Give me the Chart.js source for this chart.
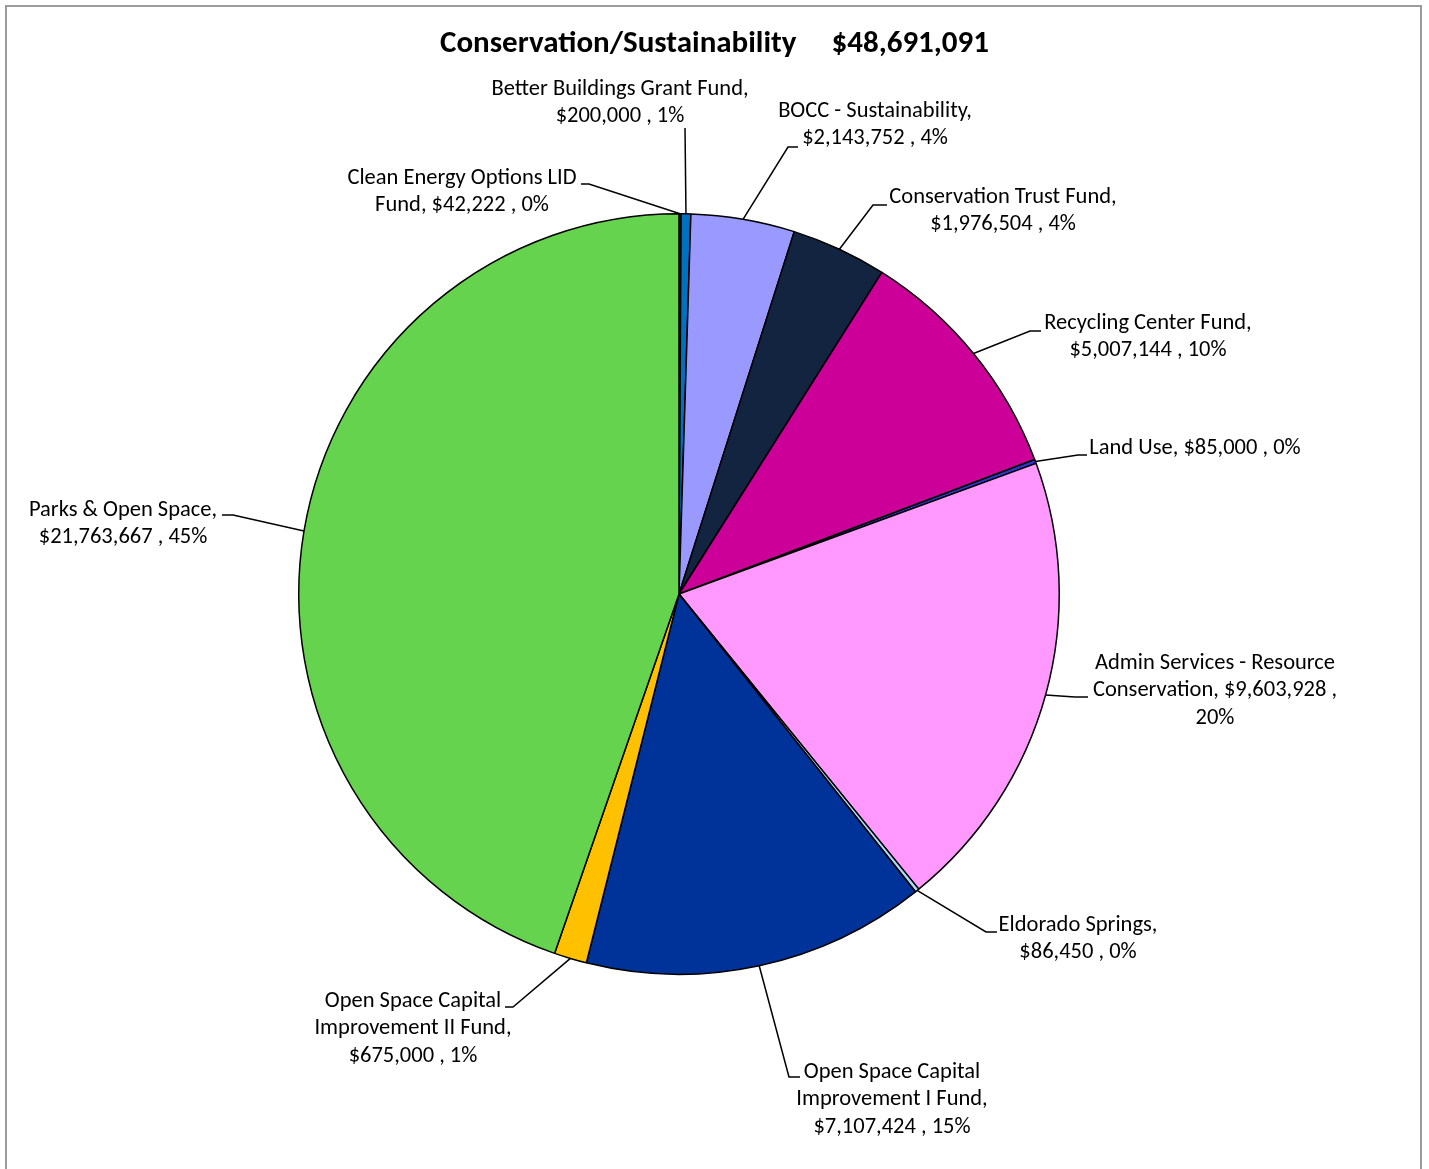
<!DOCTYPE html>
<html>
<head>
<meta charset="utf-8">
<title>Conservation/Sustainability</title>
<script src="https://cdn.jsdelivr.net/npm/chart.js@4/dist/chart.umd.min.js"></script>
<style>
  html, body { margin: 0; padding: 0; background: #fff; }
  canvas { display: block; }
</style>
</head>
<body>
<canvas id="fundChart" width="1429" height="1169"></canvas>
<script>
'use strict';

const chartTitle = 'Conservation/Sustainability';
const fundNames = [
  'Clean Energy Options LID Fund',
  'Better Buildings Grant Fund',
  'BOCC - Sustainability',
  'Conservation Trust Fund',
  'Recycling Center Fund',
  'Land Use',
  'Admin Services - Resource Conservation',
  'Eldorado Springs',
  'Open Space Capital Improvement I Fund',
  'Open Space Capital Improvement II Fund',
  'Parks & Open Space'
];
const fundAmounts = [42222, 200000, 2143752, 1976504, 5007144, 85000, 9603928, 86450, 7107424, 675000, 21763667];
const fundColors = ['#1F3A6B', '#0070C0', '#9999FF', '#12243F', '#CC0099', '#3333CC', '#FF99FF', '#A9D8F5', '#003399', '#FFC000', '#66D34F'];

const fontFamily = 'Carlito, Lato, sans-serif';
const labelFont = '22.5px ' + fontFamily;
const titleFont = 'bold 31px ' + fontFamily;
const lineGap = 27.5;

// where each data label sits: text centre, first line y, wrap width, leader elbow and end
const labelSpots = [
  { x: 462, y: 178, wrap: 250, elbow: [589, 184], end: [581, 184] },
  { x: 620, y: 89, wrap: 285, elbow: [685, 128], end: [685, 128] },
  { x: 875, y: 111, wrap: 230, elbow: [788, 147], end: [798, 147] },
  { x: 1003, y: 197, wrap: 255, elbow: [873, 205], end: [887, 205] },
  { x: 1148, y: 323, wrap: 240, elbow: [1030, 331], end: [1041, 331] },
  { x: 1195, y: 448, wrap: 300, elbow: [1078, 455], end: [1087, 455] },
  { x: 1215, y: 663, wrap: 262, elbow: [1075, 697], end: [1088, 697] },
  { x: 1078, y: 925, wrap: 185, elbow: [986, 932], end: [997, 932] },
  { x: 892, y: 1072, wrap: 205, elbow: [789, 1077], end: [800, 1077] },
  { x: 413, y: 1001, wrap: 212, elbow: [513, 1007], end: [505, 1007] },
  { x: 123, y: 510, wrap: 212, elbow: [233, 515], end: [222, 515] }
];

const totalAmount = fundAmounts.reduce((a, b) => a + b, 0);

// whole percents that still add up to 100 (largest remainder)
function roundedPercents(values) {
  const raw = values.map(v => v / totalAmount * 100);
  const out = raw.map(Math.floor);
  let left = 100 - out.reduce((a, b) => a + b, 0);
  const order = raw.map((r, i) => [r - Math.floor(r), i]).sort((a, b) => b[0] - a[0]);
  for (let k = 0; k < left; k++) {
    out[order[k][1]] += 1;
  }
  return out;
}

const fundPercents = roundedPercents(fundAmounts);

function money(v) {
  return '$' + v.toLocaleString('en-US');
}

function wrapWords(ctx, text, maxWidth) {
  const words = text.split(' ');
  const lines = [];
  let line = '';
  for (const w of words) {
    const test = line ? line + ' ' + w : w;
    if (line && ctx.measureText(test).width > maxWidth) {
      lines.push(line);
      line = w;
    } else {
      line = test;
    }
  }
  if (line) lines.push(line);
  return lines;
}

const frameAndLabels = {
  id: 'frameAndLabels',
  beforeDraw(chart) {
    const ctx = chart.ctx;
    ctx.save();
    ctx.fillStyle = '#fff';
    ctx.fillRect(0, 0, chart.width, chart.height);
    ctx.strokeStyle = '#9C9C9C';
    ctx.lineWidth = 2;
    ctx.strokeRect(6, 6, 1415, 1300);

    // title is centred on the whole frame, not on the pie
    ctx.font = titleFont;
    ctx.fillStyle = '#000';
    ctx.textAlign = 'center';
    ctx.textBaseline = 'middle';
    ctx.fillText(chartTitle + '     ' + money(totalAmount), chart.width / 2, 44);
    ctx.restore();
  },
  afterDatasetsDraw(chart) {
    const ctx = chart.ctx;
    const arcs = chart.getDatasetMeta(0).data;
    ctx.save();
    ctx.font = labelFont;
    ctx.fillStyle = '#000';
    ctx.strokeStyle = '#000';
    ctx.lineWidth = 1.5;
    ctx.textAlign = 'center';
    ctx.textBaseline = 'middle';
    arcs.forEach((arc, i) => {
      const spot = labelSpots[i];
      const mid = (arc.startAngle + arc.endAngle) / 2;
      const sx = arc.x + arc.outerRadius * Math.cos(mid);
      const sy = arc.y + arc.outerRadius * Math.sin(mid);
      ctx.beginPath();
      ctx.moveTo(sx, sy);
      ctx.lineTo(spot.elbow[0], spot.elbow[1]);
      ctx.lineTo(spot.end[0], spot.end[1]);
      ctx.stroke();

      const text = fundNames[i] + ', ' + money(fundAmounts[i]) + ' , ' + fundPercents[i] + '%';
      const lines = wrapWords(ctx, text, spot.wrap);
      lines.forEach((ln, j) => {
        ctx.fillText(ln, spot.x, spot.y + j * lineGap);
      });
    });
    ctx.restore();
  }
};

const config = {
  type: 'pie',
  data: {
    labels: fundNames,
    datasets: [{
      data: fundAmounts,
      backgroundColor: fundColors,
      borderColor: '#000',
      borderWidth: 1.5,
      hoverOffset: 0
    }]
  },
  options: {
    responsive: false,
    animation: false,
    events: [],
    layout: {
      padding: { left: 298, right: 369, top: 212.5, bottom: 193.5 }
    },
    plugins: {
      legend: { display: false },
      tooltip: { enabled: false },
      title: { display: false }
    }
  },
  plugins: [frameAndLabels]
};

new Chart(document.getElementById('fundChart'), config);
</script>
</body>
</html>
